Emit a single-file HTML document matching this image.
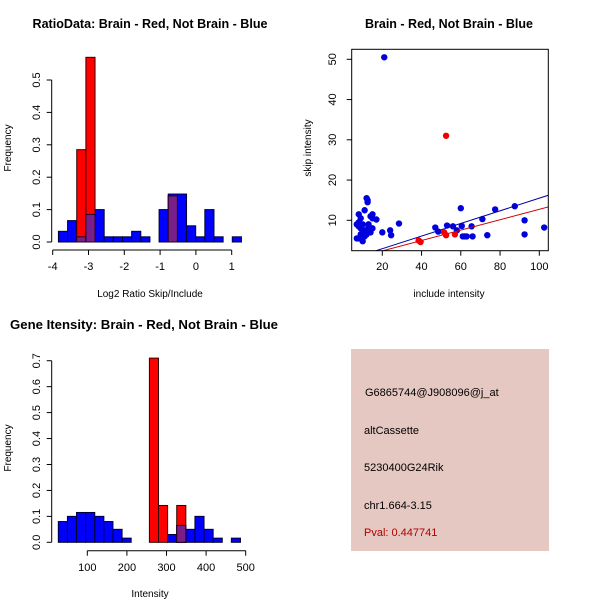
<!DOCTYPE html>
<html><head><meta charset="utf-8"><style>
body{margin:0;background:#fff;}
svg{display:block;font-family:"Liberation Sans",sans-serif;}
</style></head><body>
<svg id="c" width="600" height="600" xmlns="http://www.w3.org/2000/svg">
<rect x="0" y="0" width="600" height="600" fill="#fff"/>
<rect x="351" y="349" width="198" height="202" fill="#e6c8c2"/>
<text x="365" y="396" font-size="11">G6865744@J908096@j_at</text>
<text x="364" y="434" font-size="11">altCassette</text>
<text x="364" y="471" font-size="11">5230400G24Rik</text>
<text x="364" y="509" font-size="11">chr1.664-3.15</text>
<text x="364" y="536" font-size="11" fill="#b00000">Pval: 0.447741</text>
</svg>
<script>
// ---- Chart 1: ratio histogram ----
const ratioBinStart = -3.84;
const ratioBinWidth = 0.2556;
const ratioBlue = [0.033,0.066,0.016,0.085,0.10,0.016,0.016,0.016,0.033,0.016,0,0.10,0.148,0.148,0.05,0.016,0.10,0.016,0,0.016];
const ratioRed  = [0,0,0.285,0.57,0,0,0,0,0,0,0,0,0.142,0,0,0,0,0,0,0];
const ratioXTicks = [-4,-3,-2,-1,0,1];
const ratioYTicks = [0,0.1,0.2,0.3,0.4,0.5];
// ---- Chart 2: scatter ----
const blueInclude = [21,8,9,7,8,10,11,12,12.5,12.5,14,15,15,17,13,13,8,9,10,10,11,12,12,13,14,15,11,9,8,10,7,20,24,24.5,28.5,47,48.5,53,56,58,60,60.5,61,62,63,65.5,66,71,73.5,77.5,87.5,92.5,92.5,102.5];
const blueSkip    = [50.5,11.5,10.5,9,9.5,9,12.5,15.5,15,14.5,11,11.5,10.5,10.2,9,8.5,8.5,8,7,6.5,7.5,7,6.5,7.5,7,8,6,6.5,5.5,4.8,5.5,7,7.5,6.3,9.2,8.2,7.2,8.7,8.5,7.5,13,8.6,6,6,6,8.5,6,10.3,6.3,12.7,13.5,10,6.5,8.2];
const redInclude = [52.5,38.5,39.5,51.5,52.5,57];
const redSkip    = [31,5,4.6,7,6.3,6.5];
const blueFit = [-0.2,0.157]; // intercept, slope
const redFit  = [-0.18,0.129];
const scatXTicks = [20,40,60,80,100];
const scatYTicks = [10,20,30,40,50];
// ---- Chart 3: intensity histogram ----
const intBinStart = 26.8;
const intBinWidth = 23;
const intBlue = [0.08,0.10,0.115,0.115,0.10,0.08,0.05,0.016,0,0,0,0,0.03,0.065,0.05,0.10,0.05,0.016,0,0.016];
const intRed  = [0,0,0,0,0,0,0,0,0,0,0.71,0.142,0,0.142,0,0,0,0,0,0];
const intXTicks = [100,200,300,400,500];
const intYTicks = [0,0.1,0.2,0.3,0.4,0.5,0.6,0.7];

const NS="http://www.w3.org/2000/svg";
const svg=document.getElementById('c');
function mk(tag,attrs,name,parent){
  const e=document.createElementNS(NS,tag);
  for(const k in attrs)e.setAttribute(k,attrs[k]);
  
  
  (parent||svg).appendChild(e);return e;
}
function txt(x,y,s,name,opt){
  opt=opt||{};
  const t=mk('text',{x:x,y:y,'font-size':opt.size||11,'text-anchor':opt.anchor||'middle','font-weight':opt.bold?'bold':'normal',fill:opt.fill||'#000'},name);
  if(opt.rot)t.setAttribute('transform','rotate(-90 '+x+' '+y+')');
  if(opt.len){t.setAttribute('textLength',opt.len);t.setAttribute('lengthAdjust','spacingAndGlyphs');}
  t.textContent=s;return t;
}
function line(x1,y1,x2,y2,name,col,w){return mk('line',{x1:x1,y1:y1,x2:x2,y2:y2,stroke:col||'#000','stroke-width':w||1},name);}

function hist(g,blue,red,start,width,X,Y,prefix){
  const y0=Y(0);
  blue.forEach((v,i)=>{ if(v<=0)return;
    const a=X(start+i*width),b=X(start+(i+1)*width);
    mk('rect',{x:a,y:Y(v),width:b-a,height:y0-Y(v),fill:'#0000ff',stroke:'#000033','stroke-width':1},prefix+'-blue-bar-'+i);
  });
  red.forEach((v,i)=>{ if(v<=0)return;
    const a=X(start+i*width),b=X(start+(i+1)*width);
    mk('rect',{x:a,y:Y(v),width:b-a,height:y0-Y(v),fill:'#ff0000',stroke:'#330000','stroke-width':1},prefix+'-red-bar-'+i);
    const m=Math.min(v,blue[i]);
    if(m>0)mk('rect',{x:a,y:Y(m),width:b-a,height:y0-Y(m),fill:'#7a1f8a',stroke:'#220022','stroke-width':1},prefix+'-overlap-bar-'+i);
  });
}

// Chart 1
{
  const X=v=>52.7+(v+4)*35.8, Y=v=>242-v*324;
  hist(svg,ratioBlue,ratioRed,ratioBinStart,ratioBinWidth,X,Y,'ratio');
  line(X(-4),250,X(1),250,'ratio-x-axis');
  ratioXTicks.forEach(t=>{line(X(t),250,X(t),255,'ratio-x-tick');txt(X(t),270,String(t),'ratio-x-tick-label');});
  line(51.7,Y(0),51.7,Y(0.5),'ratio-y-axis');
  ratioYTicks.forEach(t=>{line(46.7,Y(t),51.7,Y(t),'ratio-y-tick');txt(40,Y(t),t.toFixed(1),'ratio-y-tick-label',{rot:true});});
  txt(150,28,'RatioData: Brain - Red, Not Brain - Blue','ratio-title',{bold:true,size:12.5,len:235});
  txt(150,297,'Log2 Ratio Skip/Include','ratio-x-title',{size:10});
  txt(11,148,'Frequency','ratio-y-title',{rot:true,size:10});
}
// Chart 2
{
  const X=v=>382.3+(v-20)*1.9625, Y=v=>220.3-(v-10)*4.025;
  const L=351.7,R=548.3,T=49.3,B=250.7;
  const cp=mk('clipPath',{id:'scclip'},'scatter-clip');
  mk('rect',{x:L,y:T,width:R-L,height:B-T},'scatter-clip-rect',cp);
  function fit(f,col,name){
    const x1=0,x2=120;
    mk('line',{x1:X(x1),y1:Y(f[0]+f[1]*x1),x2:X(x2),y2:Y(f[0]+f[1]*x2),stroke:col,'stroke-width':1,'clip-path':'url(#scclip)'},name);
  }
  blueInclude.forEach((v,i)=>mk('circle',{cx:X(v),cy:Y(blueSkip[i]),r:3.2,fill:'#0000dd'},'blue-point'));
  fit(blueFit,'#0000aa','blue-fit-line');
  fit(redFit,'#cc0000','red-fit-line');
  redInclude.forEach((v,i)=>mk('circle',{cx:X(v),cy:Y(redSkip[i]),r:3.2,fill:'#ee0000'},'red-point'));
  mk('rect',{x:L,y:T,width:R-L,height:B-T,fill:'none',stroke:'#000','stroke-width':1},'scatter-frame');
  scatXTicks.forEach(t=>{line(X(t),B,X(t),B+5,'scatter-x-tick');txt(X(t),270,String(t),'scatter-x-tick-label');});
  scatYTicks.forEach(t=>{line(L-5,Y(t),L,Y(t),'scatter-y-tick');txt(336,Y(t),String(t),'scatter-y-tick-label',{rot:true});});
  txt(449,28,'Brain - Red, Not Brain - Blue','scatter-title',{bold:true,size:12.5,len:168});
  txt(449,297,'include intensity','scatter-x-title',{size:10});
  txt(311,148,'skip intensity','scatter-y-title',{rot:true,size:10});
}
// Chart 3
{
  const X=v=>87.3+(v-100)*0.396, Y=v=>542.3-v*259.4;
  hist(svg,intBlue,intRed,intBinStart,intBinWidth,X,Y,'intensity');
  line(X(100),550.7,X(500),550.7,'intensity-x-axis');
  intXTicks.forEach(t=>{line(X(t),550.7,X(t),555.7,'intensity-x-tick');txt(X(t),571,String(t),'intensity-x-tick-label');});
  line(51.7,Y(0),51.7,Y(0.7),'intensity-y-axis');
  intYTicks.forEach(t=>{line(46.7,Y(t),51.7,Y(t),'intensity-y-tick');txt(40,Y(t),t.toFixed(1),'intensity-y-tick-label',{rot:true});});
  txt(144,329,'Gene Itensity: Brain - Red, Not Brain - Blue','intensity-title',{bold:true,size:12.5,len:268});
  txt(150,597,'Intensity','intensity-x-title',{size:10});
  txt(11,448,'Frequency','intensity-y-title',{rot:true,size:10});
}
</script>
</body></html>
